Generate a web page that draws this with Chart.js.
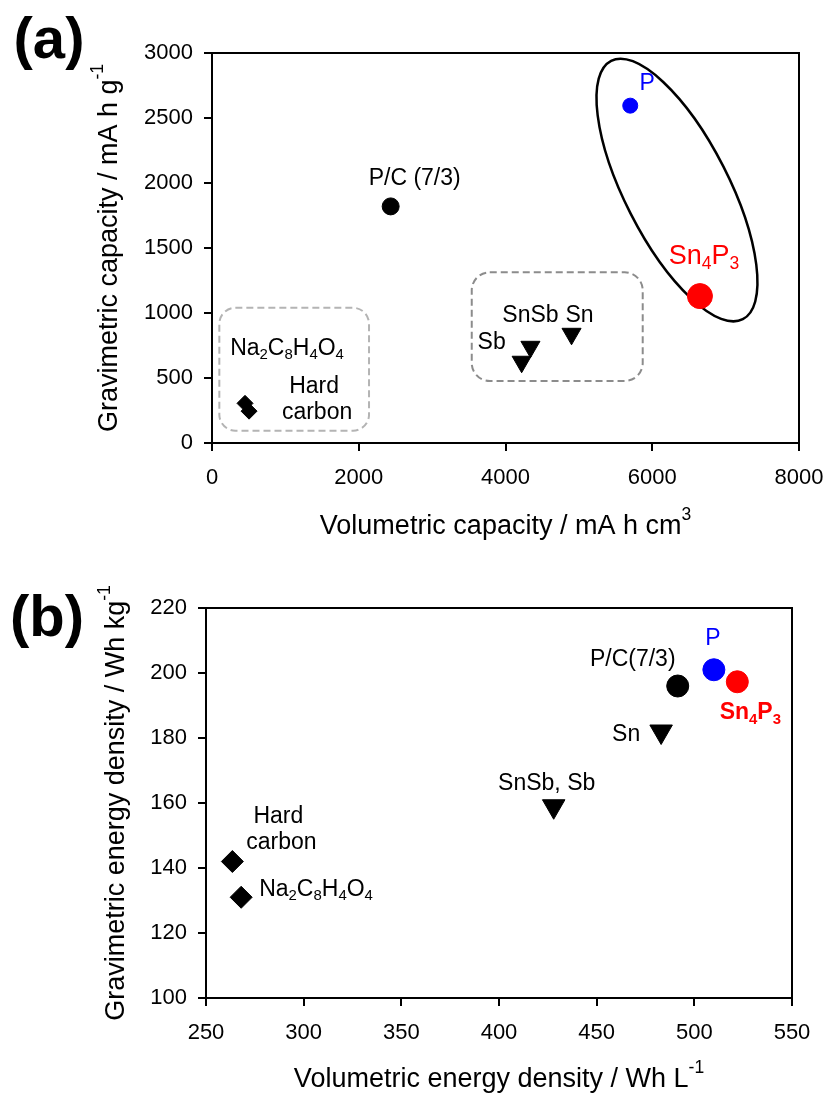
<!DOCTYPE html>
<html>
<head>
<meta charset="utf-8">
<script src="https://cdn.jsdelivr.net/npm/chart.js"></script>
<style>
  body { margin: 0; background: #fff; }
  #wrap { position: relative; width: 828px; height: 1095px; }
  canvas { position: absolute; left: 0; }
</style>
</head>
<body>
<div id="wrap">
  <canvas id="grafiksA" width="828" height="550" style="top:0"></canvas>
  <canvas id="grafiksB" width="828" height="545" style="top:550px"></canvas>
</div>
<script>
const fontFam = '"Liberation Sans", Arial, sans-serif';

// (a) capacity
const aNames = ['Na_2C_8H_4O_4', 'Hard carbon', 'Sb', 'SnSb', 'Sn', 'P/C (7/3)', 'P', 'Sn_4P_3'];
const aGroups = ['diamond', 'diamond', 'tri', 'tri', 'tri', 'pc', 'p', 'sn4p3'];
const aVol = [450, 505, 4220, 4340, 4900, 2435, 5700, 6650];
const aGrav = [305, 245, 625, 740, 840, 1820, 2595, 1130];
const aXTicks = [0, 2000, 4000, 6000, 8000];
const aYTicks = [0, 500, 1000, 1500, 2000, 2500, 3000];

// (b) energy density
const bNames = ['Hard carbon', 'Na_2C_8H_4O_4', 'SnSb, Sb', 'Sn', 'P/C(7/3)', 'P', 'Sn_4P_3'];
const bGroups = ['diamond', 'diamond', 'tri', 'tri', 'pc', 'p', 'sn4p3'];
const bVol = [263.5, 268, 428, 483, 491.5, 510, 522];
const bGrav = [142, 131, 159, 182, 196, 201, 197.3];
const bXTicks = [250, 300, 350, 400, 450, 500, 550];
const bYTicks = [100, 120, 140, 160, 180, 200, 220];

const grupuStili = {
    diamond: {pointStyle: 'rectRot', color: '#000', rA: 8, rB: 11, rot: 0},
    tri: {pointStyle: 'triangle', color: '#000', rA: 11, rB: 13, rot: 180},
    pc: {pointStyle: 'circle', color: '#000', rA: 8.5, rB: 11, rot: 0},
    p: {pointStyle: 'circle', color: '#0000ff', rA: 7.5, rB: 11, rot: 0},
    sn4p3: {pointStyle: 'circle', color: '#ff0000', rA: 12.5, rB: 11, rot: 0}
};

// label placement: pixel offset from the point
const aLabels = {
    'Na_2C_8H_4O_4': {dx: 42, dy: -55, size: 23},
    'Hard carbon': {dx: 67, dy: -24, size: 23, lines: ['Hard', 'carbon'], lineDx: [-2, 1], gap: 26},
    'Sb': {dx: -30, dy: -19, size: 23},
    'SnSb': {dx: 0, dy: -31, size: 23},
    'Sn': {dx: 8, dy: -18, size: 23},
    'P/C (7/3)': {dx: 24, dy: -28, size: 23},
    'P': {dx: 17, dy: -22, size: 23, color: '#0000ff'},
    'Sn_4P_3': {dx: 4, dy: -40, size: 27, color: '#ff0000'}
};
const bLabels = {
    'Hard carbon': {dx: 48, dy: -45, size: 23, lines: ['Hard', 'carbon'], lineDx: [-2, 1], gap: 26},
    'Na_2C_8H_4O_4': {dx: 18, dy: -8, size: 23, align: 'left'},
    'SnSb, Sb': {dx: -7, dy: -23, size: 23},
    'Sn': {dx: -35, dy: 3, size: 23},
    'P/C(7/3)': {dx: -45, dy: -26, size: 23},
    'P': {dx: -1, dy: -31, size: 23, color: '#0000ff'},
    'Sn_4P_3': {dx: 13, dy: 31, size: 23, color: '#ff0000', bold: true}
};

function saskaldit(str) {
    const dalas = [];
    let i = 0;
    while (i < str.length) {
        const ch = str[i];
        if (ch === '_' || ch === '^') {
            let t;
            if (str[i + 1] === '{') { const j = str.indexOf('}', i); t = str.slice(i + 2, j); i = j + 1; }
            else { t = str[i + 1]; i += 2; }
            dalas.push({t, k: ch});
        } else {
            let j = i;
            while (j < str.length && str[j] !== '_' && str[j] !== '^') j++;
            dalas.push({t: str.slice(i, j), k: ''});
            i = j;
        }
    }
    return dalas;
}

function zimetTekstu(ctx, str, x, y, size, color, bold, align) {
    const dalas = saskaldit(str);
    const f = s => (bold ? 'bold ' : '') + s + 'px ' + fontFam;
    let w = 0;
    dalas.forEach(d => {
        ctx.font = f(d.k ? size * 0.65 : size);
        d.w = ctx.measureText(d.t).width;
        w += d.w;
    });
    let cx = align === 'left' ? x : x - w / 2;
    ctx.fillStyle = color;
    ctx.textAlign = 'left';
    ctx.textBaseline = 'middle';
    dalas.forEach(d => {
        let yy = y;
        if (d.k === '_') yy = y + size * 0.3;
        if (d.k === '^') yy = y - size * 0.45;
        ctx.font = f(d.k ? size * 0.65 : size);
        ctx.fillText(d.t, cx, yy);
        cx += d.w;
    });
}

function veidotDatasetus(names, groups, xs, ys, radKey) {
    const seciba = ['diamond', 'tri', 'pc', 'p', 'sn4p3'];
    return seciba.map(g => {
        const st = grupuStili[g];
        const idx = groups.map((gg, i) => gg === g ? i : -1).filter(i => i >= 0);
        return {
            label: g,
            data: idx.map(i => ({x: xs[i], y: ys[i], name: names[i]})),
            pointStyle: st.pointStyle,
            rotation: st.rot,
            pointRadius: st[radKey],
            pointHoverRadius: st[radKey],
            backgroundColor: st.color,
            borderColor: st.color,
            borderWidth: 1,
            showLine: false
        };
    });
}

function asuOpcijas(min, max, step, ticks, extraSize, isX) {
    return {
        type: 'linear',
        min: min,
        max: max,
        afterBuildTicks: s => { s.ticks = ticks.map(v => ({value: v})); },
        ticks: {
            stepSize: step,
            callback: v => String(v),
            color: '#000',
            font: {size: 22, family: fontFam},
            padding: isX ? 14 : 11,
            maxRotation: 0
        },
        grid: {drawOnChartArea: false, drawTicks: true, tickLength: 8, color: '#000', lineWidth: 2},
        border: {display: true, color: '#000', width: 2},
        afterFit: s => {
            if (isX) s.height = extraSize; else s.width = extraSize;
            s.paddingLeft = 0; s.paddingRight = 0; s.paddingTop = 0; s.paddingBottom = 0;
        }
    };
}

function rakstiPlugins(cfg) {
    return {
        id: 'raksti',
        beforeDatasetsDraw(chart) {
            const ctx = chart.ctx;
            const xs = chart.scales.x, ys = chart.scales.y;
            ctx.save();
            (cfg.boxes || []).forEach(b => {
                const x1 = xs.getPixelForValue(b.x1), x2 = xs.getPixelForValue(b.x2);
                const y1 = ys.getPixelForValue(b.y2), y2 = ys.getPixelForValue(b.y1);
                ctx.strokeStyle = b.color;
                ctx.lineWidth = 2;
                ctx.setLineDash([7, 4]);
                ctx.beginPath();
                ctx.roundRect(x1, y1, x2 - x1, y2 - y1, b.radius);
                ctx.stroke();
            });
            ctx.setLineDash([]);
            (cfg.ellipses || []).forEach(e => {
                ctx.strokeStyle = '#000';
                ctx.lineWidth = 2.5;
                ctx.beginPath();
                ctx.ellipse(xs.getPixelForValue(e.x), ys.getPixelForValue(e.y), e.a, e.b, e.angle * Math.PI / 180, 0, Math.PI * 2);
                ctx.stroke();
            });
            ctx.restore();
        },
        afterDraw(chart) {
            const ctx = chart.ctx;
            const ca = chart.chartArea;
            const xs = chart.scales.x, ys = chart.scales.y;
            ctx.save();
            ctx.strokeStyle = '#000';
            ctx.lineWidth = 2;
            ctx.beginPath();
            ctx.moveTo(ca.left, ca.top);
            ctx.lineTo(ca.right, ca.top);
            ctx.lineTo(ca.right, ca.bottom);
            ctx.stroke();

            cfg.names.forEach((n, i) => {
                const l = cfg.labels[n];
                if (!l) return;
                const px = xs.getPixelForValue(cfg.xs[i]) + l.dx;
                const py = ys.getPixelForValue(cfg.ys[i]) + l.dy;
                const col = l.color || '#000';
                if (l.lines) {
                    l.lines.forEach((t, k) => zimetTekstu(ctx, t, px + l.lineDx[k], py + k * l.gap, l.size, col, l.bold, l.align));
                } else {
                    zimetTekstu(ctx, n, px, py, l.size, col, l.bold, l.align);
                }
            });

            const midX = (ca.left + ca.right) / 2;
            zimetTekstu(ctx, cfg.xTitle, midX, ca.bottom + cfg.xTitleGap, 27, '#000', false);
            ctx.translate(cfg.yTitleX, (ca.top + ca.bottom) / 2);
            ctx.rotate(-Math.PI / 2);
            zimetTekstu(ctx, cfg.yTitle, 0, 0, 27, '#000', false);
            ctx.restore();

            ctx.save();
            zimetTekstu(ctx, cfg.panel, cfg.panelX, cfg.panelY, 58, '#000', true);
            ctx.restore();
        }
    };
}

function veidotGrafiku(id, opts) {
    return new Chart(document.getElementById(id).getContext('2d'), {
        type: 'scatter',
        data: {datasets: veidotDatasetus(opts.names, opts.groups, opts.xs, opts.ys, opts.radKey)},
        options: {
            responsive: false,
            animation: false,
            devicePixelRatio: 1,
            layout: {padding: {left: 0, right: opts.padRight, top: opts.padTop, bottom: 0}},
            plugins: {legend: {display: false}, tooltip: {enabled: false}},
            scales: {
                x: asuOpcijas(opts.xMin, opts.xMax, opts.xStep, opts.xTicks, opts.xAxisH, true),
                y: asuOpcijas(opts.yMin, opts.yMax, opts.yStep, opts.yTicks, opts.yAxisW, false)
            }
        },
        plugins: [rakstiPlugins(opts)]
    });
}

veidotGrafiku('grafiksA', {
    names: aNames, groups: aGroups, xs: aVol, ys: aGrav, radKey: 'rA', labels: aLabels,
    xMin: 0, xMax: 8000, xStep: 2000, xTicks: aXTicks,
    yMin: 0, yMax: 3000, yStep: 500, yTicks: aYTicks,
    padRight: 29, padTop: 53, xAxisH: 107, yAxisW: 212,
    xTitle: 'Volumetric capacity / mA h cm^3', xTitleGap: 84,
    yTitle: 'Gravimetric capacity / mA h g^{-1}', yTitleX: 110,
    panel: '(a)', panelX: 49, panelY: 42,
    boxes: [
        {x1: 100, x2: 2140, y1: 95, y2: 1040, color: '#b4b4b4', radius: 16},
        {x1: 3540, x2: 5870, y1: 477, y2: 1313, color: '#8c8c8c', radius: 18}
    ],
    ellipses: [{x: 6337, y: 1946, a: 145, b: 52, angle: 63}]
});

veidotGrafiku('grafiksB', {
    names: bNames, groups: bGroups, xs: bVol, ys: bGrav, radKey: 'rB', labels: bLabels,
    xMin: 250, xMax: 550, xStep: 50, xTicks: bXTicks,
    yMin: 100, yMax: 220, yStep: 20, yTicks: bYTicks,
    padRight: 36, padTop: 58, xAxisH: 97, yAxisW: 206,
    xTitle: 'Volumetric energy density / Wh L^{-1}', xTitleGap: 82,
    yTitle: 'Gravimetric energy density / Wh kg^{-1}', yTitleX: 117,
    panel: '(b)', panelX: 47, panelY: 70,
    boxes: [], ellipses: []
});
</script>
</body>
</html>
